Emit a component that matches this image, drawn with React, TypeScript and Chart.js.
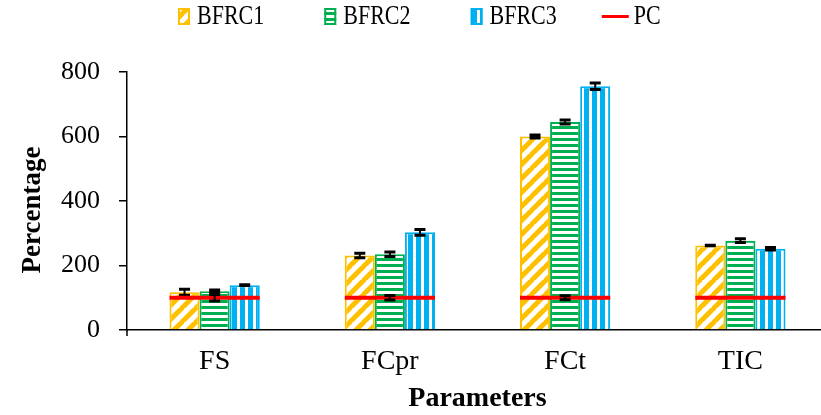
import React, { useEffect, useRef } from 'react';
import { Chart, registerables } from 'chart.js';

Chart.register(...registerables);

const categories = ['FS', 'FCpr', 'FCt', 'TIC'];
const seriesNames = ['BFRC1', 'BFRC2', 'BFRC3'];
const bfrc1 = [117, 231, 600, 262];
const bfrc1Err = [9, 7, 5, 1];
const bfrc2 = [120, 235, 645, 277];
const bfrc2Err = [4, 7, 6, 6];
const bfrc3 = [139, 303, 756, 252];
const bfrc3Err = [1, 9, 10, 4];
const pcName = 'PC';
const pc = [100, 100, 100, 100];
const pcErr = [10, 7, 6, 0];
const yTicks = [0, 200, 400, 600, 800];
const xTitle = 'Parameters';
const yTitle = 'Percentage';

const FONT = "'Liberation Serif', 'Times New Roman', serif";
const COLORS = ['#FFC000', '#00B050', '#00B0F0'];
const PC_COLOR = '#FF0000';

function makePattern(kind: string, color: string): CanvasPattern | string {
  const c = document.createElement('canvas');
  let w = 14, h = 14;
  if (kind === 'h') { w = 4; h = 6; }
  if (kind === 'v') { w = 8; h = 4; }
  c.width = w; c.height = h;
  const g = c.getContext('2d')!;
  g.fillStyle = '#ffffff';
  g.fillRect(0, 0, w, h);
  g.fillStyle = color;
  g.strokeStyle = color;
  if (kind === 'd') {
    g.lineWidth = 5;
    g.beginPath();
    for (const o of [-w, 0, w]) {
      g.moveTo(o - 1, h + 1);
      g.lineTo(o + w + 1, -1);
    }
    g.stroke();
  } else if (kind === 'h') {
    g.fillRect(0, 0, w, 3);
  } else {
    g.fillRect(0, 0, 5, h);
  }
  return g.createPattern(c, 'repeat') || color;
}

const errorPlugin = {
  id: 'errorAndPc',
  afterDatasetsDraw(chart: any) {
    const ctx = chart.ctx;
    const ys = chart.scales.y;
    const xs = chart.scales.x;
    const errs = [bfrc1Err, bfrc2Err, bfrc3Err];
    ctx.save();
    const drawErr = (x: number, v: number, e: number) => {
      const t = ys.getPixelForValue(v + e);
      const b = ys.getPixelForValue(v - e);
      ctx.strokeStyle = '#000';
      ctx.lineWidth = 2;
      ctx.beginPath();
      ctx.moveTo(x, t);
      ctx.lineTo(x, b);
      ctx.stroke();
      ctx.lineWidth = 3;
      ctx.beginPath();
      ctx.moveTo(x - 5.5, t);
      ctx.lineTo(x + 5.5, t);
      ctx.moveTo(x - 5.5, b);
      ctx.lineTo(x + 5.5, b);
      ctx.stroke();
    };
    errs.forEach((arr, i) => {
      const meta = chart.getDatasetMeta(i);
      const data = chart.data.datasets[i].data;
      meta.data.forEach((el: any, j: number) => drawErr(el.x, data[j], arr[j]));
    });
    const m0 = chart.getDatasetMeta(0);
    const m2 = chart.getDatasetMeta(2);
    const pcData = chart.data.datasets[3].data;
    ctx.strokeStyle = PC_COLOR;
    ctx.lineWidth = 4;
    pcData.forEach((v: number, j: number) => {
      const l = m0.data[j].x - m0.data[j].width / 2;
      const r = m2.data[j].x + m2.data[j].width / 2;
      const py = ys.getPixelForValue(v);
      ctx.beginPath();
      ctx.moveTo(l, py);
      ctx.lineTo(r, py);
      ctx.stroke();
    });
    pcData.forEach((v: number, j: number) => {
      if (pcErr[j] > 0) drawErr(xs.getPixelForValue(j), v, pcErr[j]);
    });
    ctx.restore();
  },
};

const legendPlugin = {
  id: 'customLegend',
  afterDraw(chart: any) {
    const ctx = chart.ctx;
    ctx.save();
    const cy = 16.5;
    ctx.font = `22px ${FONT}`;
    let x = 178;
    const dss = chart.data.datasets;
    dss.forEach((ds: any, i: number) => {
      const isLine = ds.type === 'line';
      const sw = isLine ? 27 : 12;
      if (isLine) {
        ctx.strokeStyle = ds.borderColor;
        ctx.lineWidth = 3;
        ctx.beginPath();
        ctx.moveTo(x, cy);
        ctx.lineTo(x + sw, cy);
        ctx.stroke();
      } else {
        ctx.fillStyle = ds.backgroundColor;
        ctx.fillRect(x, cy - 8.5, 12, 17);
        ctx.strokeStyle = ds.borderColor;
        ctx.lineWidth = 2;
        ctx.strokeRect(x + 1, cy - 7.5, 10, 15);
      }
      const tx = x + sw + (isLine ? 5 : 7);
      ctx.save();
      ctx.translate(tx, cy);
      ctx.scale(1, 1.25);
      ctx.fillStyle = '#000';
      ctx.textBaseline = 'middle';
      ctx.textAlign = 'left';
      ctx.fillText(ds.label, 0, 0);
      ctx.restore();
      const w = ctx.measureText(ds.label).width;
      const next = dss[i + 1];
      x = tx + w + (next && next.type === 'line' ? 45 : 60);
    });
    const ys = chart.scales.y;
    // small extension of the value axis below the category axis
    ctx.strokeStyle = '#000';
    ctx.lineWidth = 1.5;
    ctx.beginPath();
    ctx.moveTo(chart.chartArea.left, ys.bottom);
    ctx.lineTo(chart.chartArea.left, ys.bottom + 6);
    ctx.stroke();
    // y-axis title, centred a little below the plot's middle as in the reference
    ctx.save();
    ctx.translate(33, (ys.top + ys.bottom) / 2 + 9);
    ctx.rotate(-Math.PI / 2);
    ctx.font = `bold 27px ${FONT}`;
    ctx.fillStyle = '#000';
    ctx.textAlign = 'center';
    ctx.textBaseline = 'middle';
    ctx.fillText(yTitle, 0, 0);
    ctx.restore();
    ctx.restore();
  },
};

export default function App() {
  const ref = useRef<HTMLCanvasElement>(null);
  useEffect(() => {
    const canvas = ref.current!;
    const kinds = ['d', 'h', 'v'];
    const values = [bfrc1, bfrc2, bfrc3];
    const chart = new Chart(canvas, {
      type: 'bar',
      data: {
        labels: categories,
        datasets: [
          ...seriesNames.map((name, i) => ({
            type: 'bar' as const,
            label: name,
            data: values[i],
            backgroundColor: makePattern(kinds[i], COLORS[i]) as any,
            borderColor: COLORS[i],
            borderWidth: 2,
            borderSkipped: 'start' as const,
            categoryPercentage: 0.515,
            barPercentage: 1,
          })),
          {
            type: 'line' as const,
            label: pcName,
            data: pc,
            borderColor: PC_COLOR,
            backgroundColor: PC_COLOR,
            showLine: false,
            pointRadius: 0,
            pointHoverRadius: 0,
          } as any,
        ],
      },
      options: {
        responsive: false,
        animation: false,
        devicePixelRatio: 1,
        layout: { padding: { top: 72, left: 0, right: 2, bottom: 0 } },
        plugins: {
          legend: { display: false },
          tooltip: { enabled: false },
        },
        scales: {
          x: {
            ticks: { color: '#000', font: { family: FONT, size: 28 }, padding: 15 },
            grid: { display: false, drawTicks: false },
            border: { display: true, color: '#000', width: 1.5 },
            title: {
              display: true,
              text: xTitle,
              color: '#000',
              font: { family: FONT, size: 28, weight: 'bold' },
              padding: { top: 0, bottom: -1 },
            },
            afterFit: (s: any) => { s.height = 85; },
          },
          y: {
            min: 0,
            max: 800,
            afterBuildTicks: (s: any) => { s.ticks = yTicks.map((v) => ({ value: v })); },
            ticks: { color: '#000', font: { family: FONT, size: 26 }, padding: 19 },
            grid: { display: true, drawOnChartArea: false, drawTicks: true, tickLength: 8, color: '#000', lineWidth: 1.5 },
            border: { display: true, color: '#000', width: 1.5 },
            title: { display: false, text: yTitle },
            afterFit: (s: any) => { s.width = 127; },
          },
        },
      },
      plugins: [errorPlugin, legendPlugin],
    });
    return () => chart.destroy();
  }, []);
  return (
    <div style={{ position: 'fixed', left: 0, top: 0, width: 821, height: 415, overflow: 'hidden', background: '#fff' }}>
      <canvas ref={ref} width={830} height={415} style={{ display: 'block', width: 830, height: 415 }} />
    </div>
  );
}
